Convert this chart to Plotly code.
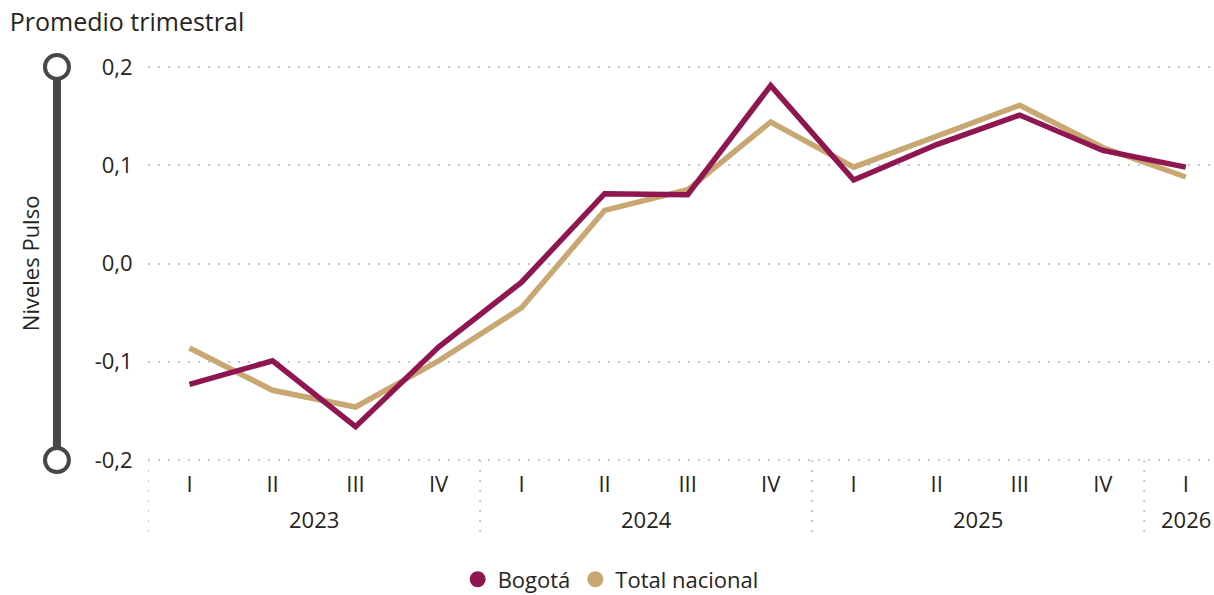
import plotly.graph_objects as go

years = ["2023"] * 4 + ["2024"] * 4 + ["2025"] * 4 + ["2026"]
quarters = ["I", "II", "III", "IV", "I", "II", "III", "IV", "I", "II", "III", "IV", "I"]
bogota = [-0.123, -0.099, -0.166, -0.085, -0.019, 0.071, 0.070, 0.181, 0.085, 0.121, 0.151, 0.115, 0.098]
total_nacional = [-0.086, -0.129, -0.146, -0.099, -0.045, 0.054, 0.075, 0.144, 0.098, 0.129, 0.161, 0.118, 0.088]
y_ticks = [-0.2, -0.1, 0.0, 0.1, 0.2]
y_ticktext = ["-0,2", "-0,1", "0,0", "0,1", "0,2"]

COL_BOG = "#8F1650"
COL_TOT = "#C8A772"
FONT = "Segoe UI, Open Sans, Noto Sans, sans-serif"
TXT = "#252423"
FS = 22
YMIN, YMAX = -0.205, 0.205

cats = [f"{y} {q}" for y, q in zip(years, quarters)]

fig = go.Figure()
fig.add_trace(go.Scatter(x=cats, y=total_nacional, mode="lines", line=dict(color=COL_TOT, width=5.5),
                         showlegend=False, name="Total nacional"))
fig.add_trace(go.Scatter(x=cats, y=bogota, mode="lines", line=dict(color=COL_BOG, width=5.5),
                         showlegend=False, name="Bogotá"))
# legend entries
fig.add_trace(go.Scatter(x=[None], y=[None], mode="markers", name="Bogotá",
                         marker=dict(color=COL_BOG, size=21)))
fig.add_trace(go.Scatter(x=[None], y=[None], mode="markers", name="Total nacional",
                         marker=dict(color=COL_TOT, size=21)))

grid_col = "#C8C8C8"
fig.update_layout(
    width=1214, height=595,
    margin=dict(l=148, r=0, t=62, b=130, autoexpand=False),
    paper_bgcolor="white", plot_bgcolor="white",
    font=dict(family=FONT, color=TXT, size=FS),
    title=dict(text="Promedio trimestral", x=0.008, xanchor="left", y=0.962, yanchor="middle",
               font=dict(size=25, color=TXT)),
    legend=dict(orientation="h", x=0.434, xanchor="center", y=-0.284, yanchor="middle",
                font=dict(size=FS, color=TXT), itemwidth=30, tracegroupgap=0),
    xaxis=dict(type="category", categoryorder="array", categoryarray=cats,
               tickvals=cats, ticktext=quarters, range=[-0.5, 12.34], automargin=False,
               showgrid=False, zeroline=False, showline=False, ticks="", ticklabelstandoff=4,
               tickfont=dict(size=FS, color=TXT)),
    yaxis=dict(range=[YMIN, YMAX], tickvals=y_ticks, ticktext=y_ticktext,
               showgrid=True, gridcolor=grid_col, gridwidth=2, griddash="2px,8px", automargin=False,
               zeroline=False, showline=False, ticks="outside", ticklen=10,
               tickcolor="rgba(0,0,0,0)", tickfont=dict(size=FS, color=TXT)),
)

# year group labels and dotted dividers
p_bot = (y_ticks[0] - YMIN) / (YMAX - YMIN)
p_top = (y_ticks[-1] - YMIN) / (YMAX - YMIN)
groups = []
for i, y in enumerate(years):
    if not groups or groups[-1][0] != y:
        groups.append([y, i, i])
    else:
        groups[-1][2] = i
for y, a, b in groups:
    fig.add_annotation(x=(a + b) / 2, y=-0.134, xref="x", yref="paper", text=y, showarrow=False,
                       font=dict(size=FS, color=TXT), yanchor="middle")
    fig.add_shape(type="line", xref="x", yref="paper", x0=a - 0.5, x1=a - 0.5, y0=p_bot, y1=-0.174,
                  line=dict(color=grid_col, width=2, dash="2px,8px"))

# y axis title and slider decoration
fig.add_annotation(x=-0.111, y=0.5, xref="paper", yref="paper", text="Niveles Pulso", textangle=-90,
                   showarrow=False, font=dict(size=FS, color=TXT), xanchor="center", yanchor="middle")
sx = -0.0854
fig.add_shape(type="line", xref="paper", yref="paper", x0=sx, x1=sx, y0=p_bot, y1=p_top,
              line=dict(color="#474747", width=8), layer="above")
for yy in (p_bot, p_top):
    fig.add_shape(type="circle", xref="paper", yref="paper", xsizemode="pixel", ysizemode="pixel",
                  xanchor=sx, yanchor=yy, x0=-12, x1=12, y0=-12, y1=12,
                  fillcolor="white", line=dict(color="#474747", width=4), layer="above")

fig.write_html("out.html", config={"displayModeBar": False},
               post_script="document.body.style.margin='0';document.body.style.overflow='hidden';")
